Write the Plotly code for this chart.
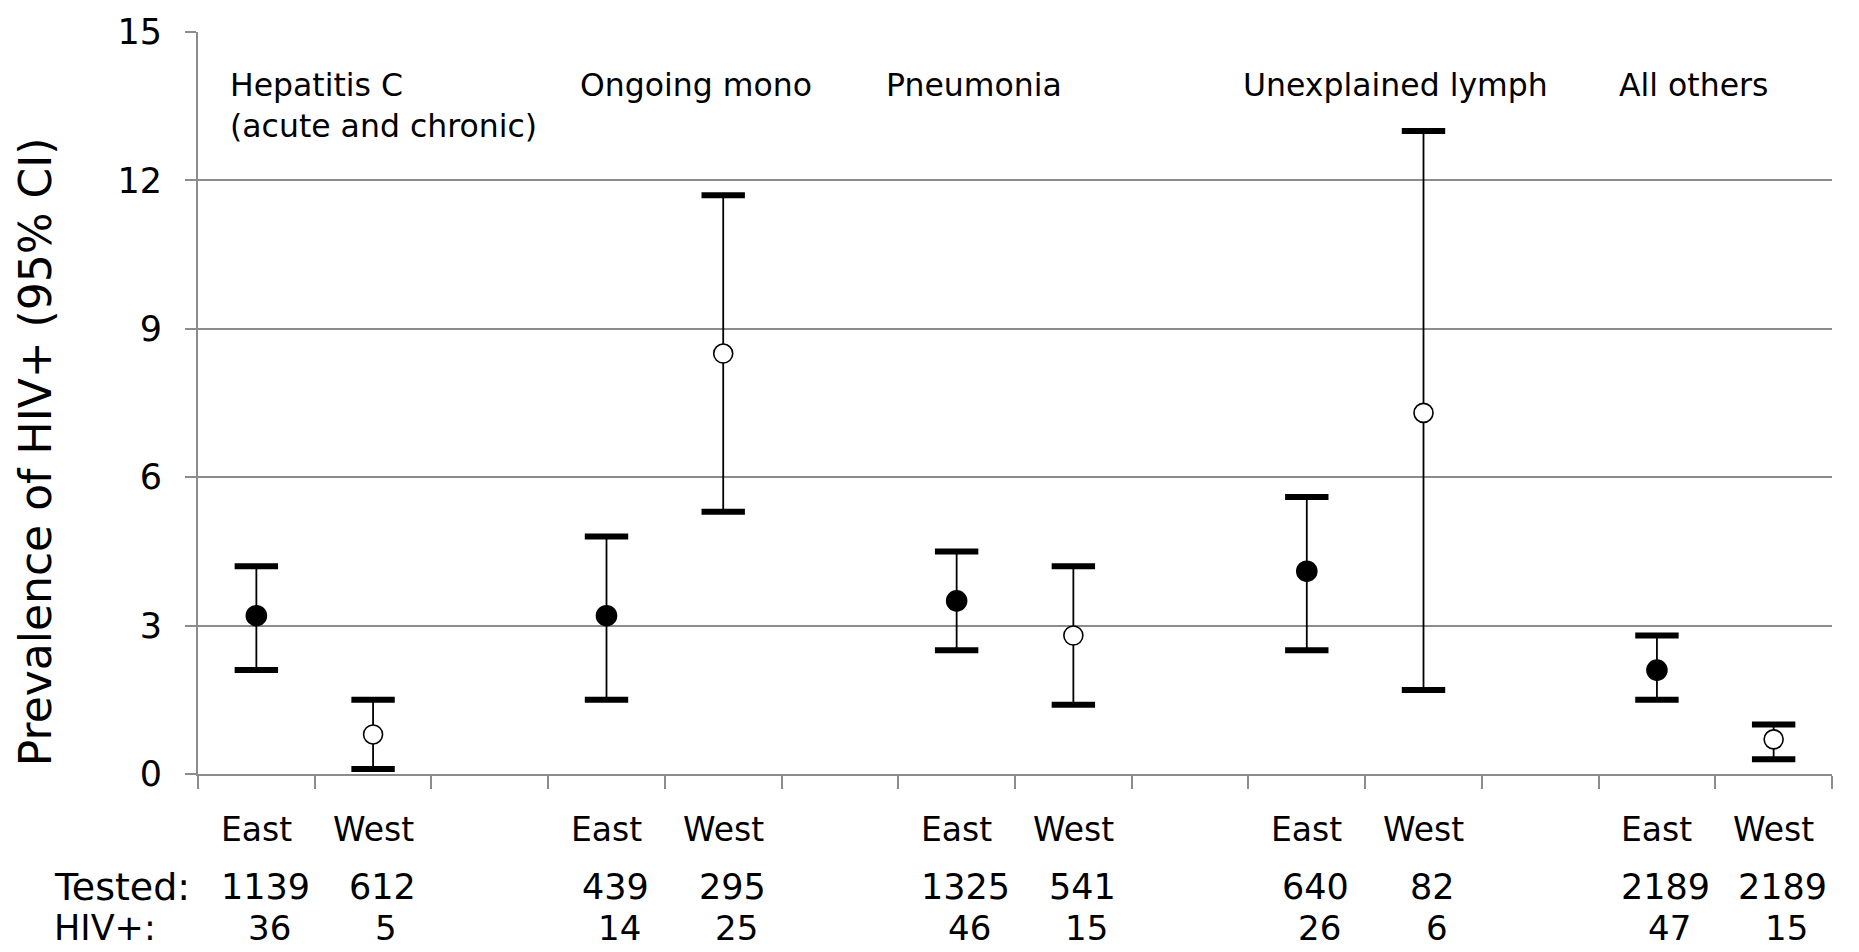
import plotly.graph_objects as go

# ---------------- data ----------------
groups = ["Hepatitis C<br>(acute and chronic)", "Ongoing mono", "Pneumonia",
          "Unexplained lymph", "All others"]
regions = ["East", "West"]
east_prev = [3.2, 3.2, 3.5, 4.1, 2.1]
east_lo = [2.1, 1.5, 2.5, 2.5, 1.5]
east_hi = [4.2, 4.8, 4.5, 5.6, 2.8]
west_prev = [0.8, 8.5, 2.8, 7.3, 0.7]
west_lo = [0.1, 5.3, 1.4, 1.7, 0.3]
west_hi = [1.5, 11.7, 4.2, 13.0, 1.0]
east_tested = [1139, 439, 1325, 640, 2189]
west_tested = [612, 295, 541, 82, 2189]
east_hiv = [36, 14, 46, 26, 47]
west_hiv = [5, 25, 15, 6, 15]
y_ticks = [0, 3, 6, 9, 12, 15]

# ---------------- layout constants ----------------
FONT = "DejaVu Sans"
n_slots = 14                      # East, West, gap per group (Excel-style blank categories)
east_x = [3 * g for g in range(len(groups))]
west_x = [3 * g + 1 for g in range(len(groups))]
label_x = [-0.24, 2.76, 5.38, 8.44, 11.66]   # group caption left edges (axis units)

fig = go.Figure()


def add_series(xs, prev, lo, hi, fill):
    # caps (thick) at CI bounds
    fig.add_trace(go.Scatter(
        x=xs + xs, y=lo + hi, mode="markers", hoverinfo="skip",
        marker=dict(symbol="line-ew", size=31, line=dict(width=6, color="black")),
        showlegend=False))
    # point + thin stem
    fig.add_trace(go.Scatter(
        x=xs, y=prev, mode="markers", showlegend=False,
        error_y=dict(type="data", symmetric=False,
                     array=[h - p for h, p in zip(hi, prev)],
                     arrayminus=[p - l for p, l in zip(prev, lo)],
                     thickness=1.8, width=0, color="black"),
        marker=dict(symbol="circle", size=20 if fill == "black" else 19,
                    color=fill, line=dict(width=1.6, color="black"))))


add_series(east_x, east_prev, east_lo, east_hi, "black")
add_series(west_x, west_prev, west_lo, west_hi, "white")

ann = []
# group captions inside plot
for gx, txt in zip(label_x, groups):
    ann.append(dict(x=gx, y=0.955, xref="x", yref="paper", text=txt, showarrow=False,
                    xanchor="left", yanchor="top", align="left",
                    font=dict(family=FONT, size=31.5, color="black")))
# East / West labels and counts
for xs, name, tested, hiv in [(east_x, regions[0], east_tested, east_hiv),
                              (west_x, regions[1], west_tested, west_hiv)]:
    for x, t, h in zip(xs, tested, hiv):
        ann.append(dict(x=x, y=-0.075, xref="x", yref="paper", text=name, showarrow=False,
                        xanchor="center", yanchor="middle",
                        font=dict(family=FONT, size=33, color="black")))
        ann.append(dict(x=x, y=-0.152, xref="x", yref="paper", text=str(t), showarrow=False,
                        xanchor="center", yanchor="middle", xshift=9, borderpad=0,
                        font=dict(family=FONT, size=35, color="black")))
        ann.append(dict(x=x, y=-0.207, xref="x", yref="paper", text=str(h), showarrow=False,
                        xanchor="center", yanchor="middle", xshift=13, borderpad=0,
                        font=dict(family=FONT, size=34, color="black")))
for yy, txt, fs in [(-0.152, "Tested:", 38), (-0.207, "HIV+:", 35)]:
    ann.append(dict(x=-0.089, y=yy, xref="paper", yref="paper", text=txt, showarrow=False,
                    xanchor="left", yanchor="middle", borderpad=0,
                    font=dict(family=FONT, size=fs, color="black")))
# y axis title
ann.append(dict(x=-0.099, y=0.434, xref="paper", yref="paper", text="Prevalence of HIV+ (95% CI)",
                showarrow=False, textangle=-90, xanchor="center", yanchor="middle",
                font=dict(family=FONT, size=44, color="black")))

GRID = "#8c8c8c"
fig.update_layout(
    width=1859, height=952,
    margin=dict(l=198, r=27, t=25, b=178),
    paper_bgcolor="white", plot_bgcolor="white",
    font=dict(family=FONT, color="black"),
    annotations=ann,
    xaxis=dict(range=[-0.5, n_slots - 0.5],
               tickvals=[i - 0.5 for i in range(n_slots + 1)],
               showticklabels=False, ticks="outside", ticklen=13, tickwidth=2,
               tickcolor=GRID, showline=True, linecolor=GRID, linewidth=2,
               showgrid=False, zeroline=False, fixedrange=True),
    yaxis=dict(range=[0, 15], tickvals=y_ticks, ticks="outside", ticklen=11,
               tickwidth=2, tickcolor=GRID, showline=True, linecolor=GRID, linewidth=2,
               showgrid=True, gridcolor=GRID, gridwidth=2, zeroline=False,
               tickfont=dict(family=FONT, size=35, color="black"),
               ticklabelstandoff=16, fixedrange=True),
)

fig.write_html("out.html")
